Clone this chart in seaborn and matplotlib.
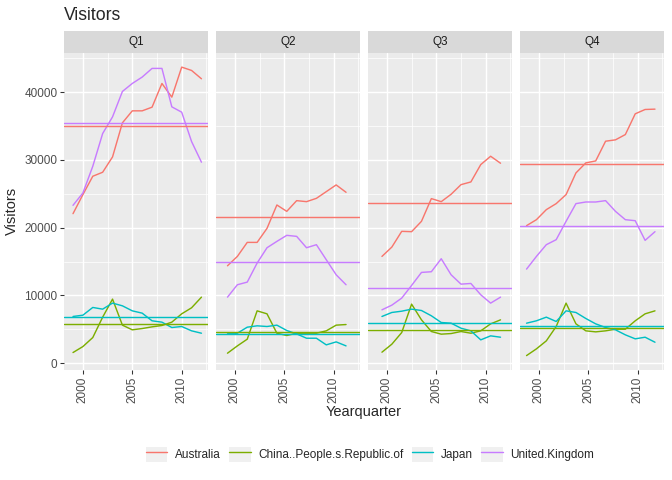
import numpy as np
import pandas as pd
import matplotlib
matplotlib.use('Agg')
import matplotlib.pyplot as plt
from matplotlib.lines import Line2D
from matplotlib.patches import Rectangle
import seaborn as sns

# facets and series
quarters = ['Q1', 'Q2', 'Q3', 'Q4']
countries = ['Australia', 'China..People.s.Republic.of', 'Japan', 'United.Kingdom']
colors = ['#F8766D', '#7CAE00', '#00BFC4', '#C77CFF']

# years covered by each quarter and the fraction added to get Yearquarter
years_q1 = list(range(1999, 2013))
years_q2 = list(range(1999, 2012))
years_q3 = list(range(1999, 2012))
years_q4 = list(range(1998, 2012))
quarter_offsets = [0.0, 0.25, 0.5, 0.75]

# visitors
aus_q1 = [22070, 24880, 27590, 28180, 30440, 35470, 37240, 37240, 37780, 41280, 39260, 43690, 43200, 41970]
chn_q1 = [1580, 2460, 3790, 6800, 9460, 5620, 4930, 5120, 5370, 5570, 6060, 7290, 8180, 9750]
jpn_q1 = [6900, 7090, 8230, 7980, 8870, 8470, 7730, 7390, 6260, 6060, 5270, 5420, 4780, 4430]
gbr_q1 = [23300, 25120, 29060, 33890, 36350, 40100, 41280, 42220, 43500, 43500, 37830, 37040, 32710, 29660]

aus_q2 = [14380, 15760, 17830, 17830, 19900, 23350, 22410, 23990, 23840, 24330, 25320, 26310, 25220]
chn_q2 = [1480, 2560, 3550, 7730, 7290, 4430, 4090, 4430, 4430, 4430, 4780, 5620, 5710]
jpn_q2 = [4430, 4430, 5320, 5520, 5420, 5620, 4830, 4330, 3690, 3690, 2710, 3150, 2560]
gbr_q2 = [9750, 11580, 11970, 14780, 17040, 17980, 18870, 18720, 17040, 17490, 15270, 13050, 11580]

aus_q3 = [15760, 17140, 19460, 19410, 20940, 24290, 23840, 24930, 26350, 26750, 29310, 30540, 29510]
chn_q3 = [1630, 2810, 4530, 8720, 6400, 4680, 4290, 4380, 4680, 4430, 4780, 5810, 6400]
jpn_q3 = [6900, 7490, 7680, 7980, 7780, 7000, 6010, 5910, 5170, 4780, 3450, 4040, 3840]
gbr_q3 = [7880, 8570, 9610, 11480, 13400, 13500, 15420, 13050, 11670, 11770, 10100, 8870, 9750]

aus_q4 = [20300, 21180, 22660, 23550, 24880, 28080, 29560, 29850, 32760, 32960, 33740, 36800, 37440, 37490]
chn_q4 = [1130, 2120, 3300, 5420, 8870, 5810, 4780, 4630, 4780, 5020, 5020, 6260, 7290, 7730]
jpn_q4 = [5910, 6260, 6800, 6160, 7730, 7490, 6600, 5810, 5270, 4930, 4190, 3600, 3840, 3100]
gbr_q4 = [13890, 15760, 17490, 18230, 20940, 23550, 23790, 23790, 23990, 22410, 21180, 21030, 18130, 19410]

facet_years = [years_q1, years_q2, years_q3, years_q4]
facet_series = [
    [aus_q1, chn_q1, jpn_q1, gbr_q1],
    [aus_q2, chn_q2, jpn_q2, gbr_q2],
    [aus_q3, chn_q3, jpn_q3, gbr_q3],
    [aus_q4, chn_q4, jpn_q4, gbr_q4],
]

rows = []
for q, yrs, off, series in zip(quarters, facet_years, quarter_offsets, facet_series):
    for c, vals in zip(countries, series):
        for y, v in zip(yrs, vals):
            rows.append((q, y + off, c, v))
df = pd.DataFrame(rows, columns=['quarter', 'Yearquarter', 'country', 'Visitors'])

# shared scales with ggplot-like 5% expansion
x_lo, x_hi = df['Yearquarter'].min(), df['Yearquarter'].max()
y_lo, y_hi = df['Visitors'].min(), df['Visitors'].max()
x_pad = 0.05 * (x_hi - x_lo)
y_pad = 0.05 * (y_hi - y_lo)
xlim = (x_lo - x_pad, x_hi + x_pad)
ylim = (y_lo - y_pad, y_hi + y_pad)

sns.set_style('white')
plt.rcParams['font.family'] = ['Liberation Sans', 'DejaVu Sans']

W, H = 672, 480
fig = plt.figure(figsize=(7, 5), dpi=96)


def box(x0, y0, x1, y1):
    return [x0 / W, 1 - y1 / H, (x1 - x0) / W, (y1 - y0) / H]


lw = 1.07
panel_left = [64, 216, 368, 520]
panel_w = 144
strip_top, panel_top, panel_bottom = 31, 52.7, 370

for i, q in enumerate(quarters):
    x0 = panel_left[i]
    ax = fig.add_axes(box(x0, panel_top, x0 + panel_w, panel_bottom))
    ax.set_facecolor('#EBEBEB')
    for s in ax.spines.values():
        s.set_visible(False)

    sub = df[df['quarter'] == q]
    sns.lineplot(data=sub, x='Yearquarter', y='Visitors', hue='country',
                 hue_order=countries, palette=colors, ax=ax, legend=False,
                 linewidth=lw, estimator=None)
    for c, col in zip(countries, colors):
        ax.axhline(sub.loc[sub['country'] == c, 'Visitors'].mean(), color=col, lw=lw)

    ax.set_xlim(xlim)
    ax.set_ylim(ylim)
    ax.set_xticks([2000, 2005, 2010])
    ax.set_xticks([2002.5, 2007.5, 2012.5], minor=True)
    ax.set_yticks([0, 10000, 20000, 30000, 40000])
    ax.set_yticks([5000, 15000, 25000, 35000, 45000], minor=True)
    ax.grid(which='major', color='white', lw=lw)
    ax.grid(which='minor', color='white', lw=lw / 2)
    ax.set_axisbelow(True)
    ax.set_xlabel('')
    ax.set_ylabel('')
    ax.set_xticklabels(['2000', '2005', '2010'], rotation=90)
    if i == 0:
        ax.set_yticklabels(['0', '10000', '20000', '30000', '40000'])
        ax.tick_params(axis='y', which='major', left=True)
    else:
        ax.set_yticklabels([])
        ax.tick_params(axis='y', which='major', left=False)
    ax.tick_params(which='major', labelsize=8.8, labelcolor='#4D4D4D', color='#333333',
                   length=2.75, width=0.8, pad=2.2, bottom=True)
    ax.tick_params(which='minor', length=0)

    strip = fig.add_axes(box(x0, strip_top, x0 + panel_w, panel_top))
    strip.set_facecolor('#D9D9D9')
    strip.set_xticks([])
    strip.set_yticks([])
    for s in strip.spines.values():
        s.set_visible(False)
    strip.text(0.5, 0.5, q, ha='center', va='center', fontsize=8.8, color='#1A1A1A',
               transform=strip.transAxes)

fig.text(64 / W, 1 - 15 / H, 'Visitors', fontsize=13.2, ha='left', va='center')
fig.text(12 / W, 1 - 211 / H, 'Visitors', fontsize=11, rotation=90, ha='center', va='center')
fig.text(364 / W, 1 - 412 / H, 'Yearquarter', fontsize=11, ha='center', va='center')

handles = [(Rectangle((0, 0), 1, 1, facecolor='#F0F0F0', edgecolor='none'),
            Line2D([], [], color=c, lw=lw)) for c in colors]
fig.legend(handles, countries, loc='center', bbox_to_anchor=(370 / W, 1 - 454.5 / H),
           ncol=4, frameon=False, fontsize=8.8, handlelength=1.85, handleheight=1.7,
           handletextpad=0.65, columnspacing=0.7, borderpad=0)

fig.savefig('out.png', dpi=96)
